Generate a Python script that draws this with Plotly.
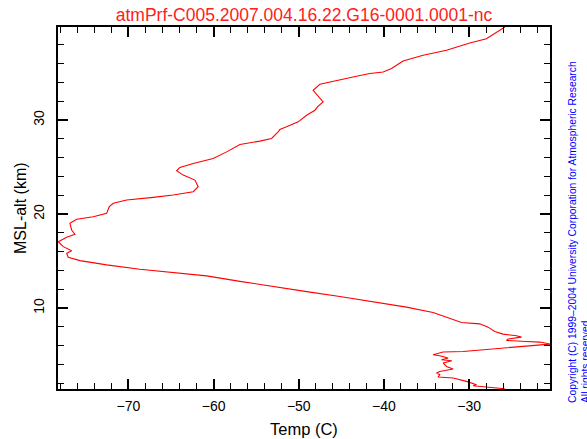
import plotly.graph_objects as go

# Temperature profile (deg C) vs. MSL altitude (km)
alt_km = [39.9, 38.66, 38.2, 37.42, 36.89, 36.28, 35.83, 35.48, 35.12, 34.95, 34.66, 34.24,
          33.81, 33.17, 32.54, 31.93, 31.48, 31.05, 30.52, 29.81, 29.28, 29.0,
          28.75, 28.05, 27.76, 27.41, 26.62, 25.92, 25.39, 24.97, 24.61, 24.15, 23.62,
          22.91, 22.38, 22.03, 21.78, 21.50, 21.15, 20.79, 20.08, 19.72, 19.45, 19.02,
          18.31, 17.86, 17.54, 17.07, 16.54, 16.11, 15.84, 15.41, 15.05, 14.60, 14.14,
          13.78, 13.43, 12.85, 12.34, 11.76, 11.23, 10.70, 10.11, 9.53, 8.94, 8.47,
          8.33, 7.98, 7.52, 7.24, 7.06, 6.92, 6.71, 6.56, 6.45, 6.39, 6.18, 6.0,
          5.86, 5.75, 5.57, 5.39, 5.33, 5.04, 4.94, 4.69, 4.51, 4.41, 4.16, 3.80,
          3.52, 3.27, 3.10, 2.92, 2.68, 2.57, 2.21, 1.86, 1.75, 1.61, 1.43]
temp_c = [-25.8, -27.96, -29.92, -32.65, -35.40, -37.75, -38.52, -39.11, -40.09, -41.65, -43.22, -45.56,
          -47.52, -48.31, -47.72, -47.14, -47.72, -48.1, -49.08, -50.07, -51.43, -52.22,
          -52.42, -53.19, -54.57, -56.91, -58.47, -60.05, -62.39, -63.96, -64.34, -63.57, -62.19,
          -61.81, -62.39, -64.74, -67.09, -70.21, -71.78, -72.25, -72.56, -74.13, -76.08, -76.87,
          -76.67, -76.28, -77.25, -78.24, -77.65, -76.67, -77.25, -77.07, -75.69, -72.56, -68.65,
          -64.74, -60.82, -56.91, -53.0, -49.08, -45.18, -41.27, -37.35, -34.23, -32.26, -30.89,
          -28.74, -27.77, -26.98, -26.01, -24.44, -23.85, -25.42, -25.61, -23.26, -21.70, -20.45, -22.87,
          -25.22, -26.39, -28.36, -30.70, -33.05, -34.23, -33.44, -32.46, -33.24, -32.03, -33.05, -32.65,
          -31.88, -33.44, -33.83, -33.44, -33.64, -31.88, -30.30, -29.13, -29.53, -27.57, -25.81]

x_tickvals = [-70, -60, -50, -40, -30]
x_ticktext = ["\u221270", "\u221260", "\u221250", "\u221240", "\u221230"]
y_tickvals = [10, 20, 30]
y_ticktext = ["10", "20", "30"]

title_text = "atmPrf-C005.2007.004.16.22.G16-0001.0001-nc"
x_title = "Temp (C)"
y_title = "MSL-alt (km)"
copyright_text = ("Copyright (C) 1999\u20132004 University Corporation for Atmospheric Research"
                  "<br>All rights reserved")

FONT = "Liberation Sans, Arial, sans-serif"

fig = go.Figure()
fig.add_trace(go.Scatter(x=temp_c, y=alt_km, mode="lines",
                         line=dict(color="#ff0000", width=1.1), showlegend=False,
                         hoverinfo="skip"))

axis_common = dict(
    showgrid=False, zeroline=False, showline=True, linecolor="black", linewidth=2,
    mirror="ticks", ticks="inside", ticklen=10, tickwidth=1.5, tickcolor="black",
    tickfont=dict(family=FONT, size=14, color="black"),
)

fig.update_layout(
    width=587, height=439,
    margin=dict(l=58, r=37, t=27, b=50),
    paper_bgcolor="white", plot_bgcolor="white",
    title=dict(text=title_text, x=304 / 587, xanchor="center", y=1 - 15 / 439,
               yanchor="middle", yref="container",
               font=dict(family=FONT, size=17.5, color="#ff2020")),
    xaxis=dict(range=[-78.27, -20.5], tickvals=x_tickvals, ticktext=x_ticktext,
               minor=dict(dtick=2, ticks="inside", ticklen=6, tickwidth=1, tickcolor="black"),
               ticklabelstandoff=3, **axis_common),
    yaxis=dict(range=[1.4, 39.9], tickvals=y_tickvals, ticktext=y_ticktext, tickangle=-90,
               minor=dict(dtick=2, ticks="inside", ticklen=6, tickwidth=1, tickcolor="black"),
               ticklabelstandoff=6, **axis_common),
    annotations=[
        dict(text=x_title, xref="paper", yref="paper", x=0.5, y=0, yshift=-40,
             xanchor="center", yanchor="middle", showarrow=False,
             font=dict(family=FONT, size=16.5, color="black")),
        dict(text=y_title, xref="paper", yref="paper", x=0, y=0.5, xshift=-38,
             xanchor="center", yanchor="middle", textangle=-90, showarrow=False,
             font=dict(family=FONT, size=16, color="black")),
        dict(text=copyright_text, xref="paper", yref="paper", x=(579 - 58) / 492,
             y=(389 - 232) / 362, xanchor="center", yanchor="middle", textangle=-90,
             align="left", showarrow=False,
             font=dict(family=FONT, size=10.3, color="#0000ff")),
    ],
)

fig.write_html("out.html")
